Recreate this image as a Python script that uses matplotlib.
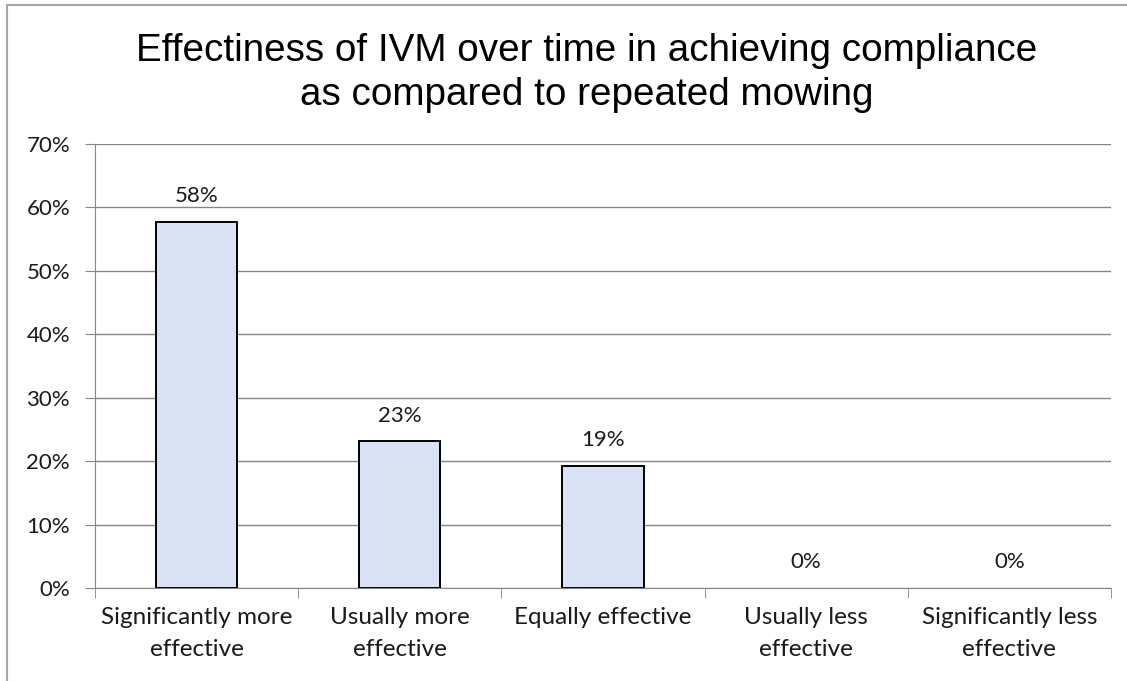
import matplotlib
matplotlib.use("Agg")
import matplotlib.pyplot as plt
from matplotlib.patches import Rectangle
from matplotlib.ticker import FuncFormatter, MultipleLocator

categories = ["Significantly more\neffective", "Usually more\neffective", "Equally effective",
              "Usually less\neffective", "Significantly less\neffective"]
values = [0.577, 0.231, 0.192, 0.0, 0.0]
labels = ["58%", "23%", "19%", "0%", "0%"]
title = "Effectiness of IVM over time in achieving compliance\nas compared to repeated mowing"

W, H = 1127, 681
fig = plt.figure(figsize=(W / 100, H / 100), dpi=100)
ax = fig.add_axes([95 / W, 1 - 588 / H, (1111 - 95) / W, (588 - 144) / H])

grid_c = "#868686"
txt_c = "#1a1a1a"
x = list(range(len(categories)))
edges = ["black" if v > 0 else "none" for v in values]
ax.bar(x, values, width=0.4, color="#D9E2F3", edgecolor=edges, linewidth=1.4, zorder=3)
for xi, v, lab in zip(x, values, labels):
    ax.annotate(lab, (xi, v), xytext=(0, 11.5), textcoords="offset points", ha="center",
                va="bottom", fontsize=16, family="Lato", color=txt_c)

ax.set_xlim(-0.5, len(categories) - 0.5)
ax.set_ylim(0, 0.7)
ax.yaxis.set_major_locator(MultipleLocator(0.1))
ax.yaxis.set_major_formatter(FuncFormatter(lambda v, p: f"{v*100:.0f}%"))
ax.grid(axis="y", color=grid_c, linewidth=1, zorder=0)
for s in ["top", "right"]:
    ax.spines[s].set_visible(False)
ax.spines["left"].set_color(grid_c)
ax.spines["bottom"].set_color(grid_c)
ax.spines["left"].set_zorder(4)

ax.set_xticks(x)
ax.set_xticklabels(categories, fontsize=17.5, family="Lato", color=txt_c, linespacing=1.65)
ax.tick_params(axis="x", length=0, pad=14)
ax.set_xticks([i - 0.5 for i in range(len(categories) + 1)], minor=True)
ax.tick_params(axis="x", which="minor", length=7, color=grid_c, direction="out")
ax.tick_params(axis="y", length=7, color=grid_c, labelsize=16, pad=11, labelcolor=txt_c)
for t in ax.get_yticklabels():
    t.set_family("Lato")

fig.text(587 / W, 1 - 33 / H, title, ha="center", va="top",
         fontsize=27.8, family="Liberation Sans", linespacing=1.3)

fig.add_artist(Rectangle((7 / W, -0.1), 1.2, 1 - 5 / H + 0.1, transform=fig.transFigure,
                         fill=False, edgecolor="#A6A6A6", linewidth=1.5))

fig.savefig("out.png", dpi=100)
